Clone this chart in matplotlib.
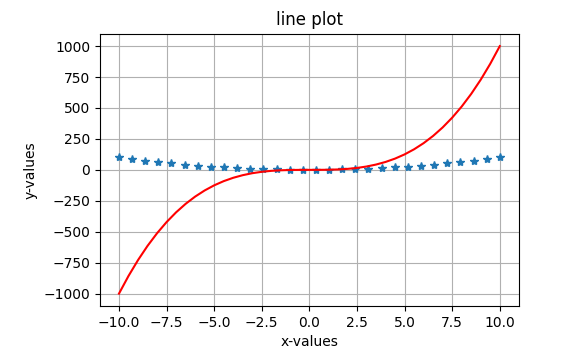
import matplotlib
matplotlib.use('Agg')
import matplotlib.pyplot as plt

# x positions of the star samples (30 points from -10 to 10)
x_vals = [-10.0, -9.3103, -8.6207, -7.9310, -7.2414, -6.5517, -5.8621, -5.1724,
          -4.4828, -3.7931, -3.1034, -2.4138, -1.7241, -1.0345, -0.3448,
          0.3448, 1.0345, 1.7241, 2.4138, 3.1034, 3.7931, 4.4828, 5.1724,
          5.8621, 6.5517, 7.2414, 7.9310, 8.6207, 9.3103, 10.0]

# star series
star_vals = [100.0, 86.68, 74.32, 62.90, 52.44, 42.93, 34.36, 26.75,
             20.10, 14.39, 9.63, 5.83, 2.97, 1.07, 0.12,
             0.12, 1.07, 2.97, 5.83, 9.63, 14.39, 20.10, 26.75,
             34.36, 42.93, 52.44, 62.90, 74.32, 86.68, 100.0]

# red curve, sampled every 0.5
curve_x = [-10.0, -9.5, -9.0, -8.5, -8.0, -7.5, -7.0, -6.5, -6.0, -5.5,
           -5.0, -4.5, -4.0, -3.5, -3.0, -2.5, -2.0, -1.5, -1.0, -0.5,
           0.0, 0.5, 1.0, 1.5, 2.0, 2.5, 3.0, 3.5, 4.0, 4.5,
           5.0, 5.5, 6.0, 6.5, 7.0, 7.5, 8.0, 8.5, 9.0, 9.5, 10.0]
curve_vals = [-1000.0, -857.4, -729.0, -614.1, -512.0, -421.9, -343.0, -274.6,
              -216.0, -166.4, -125.0, -91.1, -64.0, -42.9, -27.0, -15.6,
              -8.0, -3.4, -1.0, -0.1, 0.0, 0.1, 1.0, 3.4, 8.0, 15.6,
              27.0, 42.9, 64.0, 91.1, 125.0, 166.4, 216.0, 274.6, 343.0,
              421.9, 512.0, 614.1, 729.0, 857.4, 1000.0]

fig = plt.figure(figsize=(5.81, 3.55), dpi=100)
ax = fig.add_axes([0.172, 0.138, 0.721, 0.767])

ax.plot(x_vals, star_vals, '*', color='tab:blue')
ax.plot(curve_x, curve_vals, color='red')

ax.set_title('line plot')
ax.set_xlabel('x-values')
ax.set_ylabel('y-values')
ax.grid(True)

fig.savefig('out.png', dpi=100)
